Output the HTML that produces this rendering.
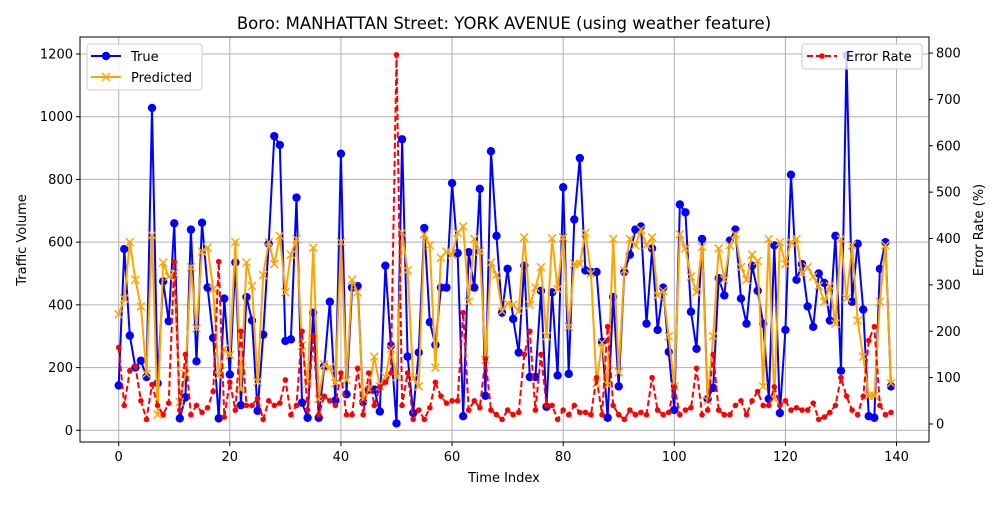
<!DOCTYPE html>
<html><head><meta charset="utf-8"><style>
body{margin:0;background:#fff;font-family:"Liberation Sans","DejaVu Sans",sans-serif}
svg text{font-family:"DejaVu Sans","Liberation Sans",sans-serif;fill:#000}
</style></head><body>
<svg id="chart" width="1000" height="500" xmlns="http://www.w3.org/2000/svg">
<rect width="1000" height="500" fill="#fff"/>
<g id="grid"></g>
<g id="series"></g>
<rect x="80" y="37" width="849" height="405" fill="none" stroke="#000" stroke-width="1"/>
<g id="axes"></g>
<text x="504" y="29" font-size="16.5" text-anchor="middle">Boro: MANHATTAN Street: YORK AVENUE (using weather feature)</text>
<text x="504" y="482" font-size="13" text-anchor="middle">Time Index</text>
<text transform="translate(26,240) rotate(-90)" font-size="13" text-anchor="middle">Traffic Volume</text>
<text transform="translate(983,230) rotate(-90)" font-size="13" text-anchor="middle">Error Rate (%)</text>
<g>
<rect x="87" y="44" width="115" height="46" rx="3" fill="#fff" fill-opacity="0.8" stroke="#ccc"/>
<g><line x1="91" y1="56" x2="121" y2="56" stroke="blue" stroke-width="2"/><circle cx="106" cy="56" r="4.2" fill="blue"/><text x="131" y="61" font-size="13">True</text></g>
<g><line x1="91" y1="77" x2="121" y2="77" stroke="orange" stroke-width="2"/><path d="M102 73 L110 81 M110 73 L102 81" stroke="orange" stroke-width="1.5"/><text x="131" y="82" font-size="13">Predicted</text></g>
</g>
<g>
<rect x="802" y="44" width="120" height="25" rx="3" fill="#fff" fill-opacity="0.8" stroke="#ccc"/>
<g><line x1="807" y1="56" x2="837" y2="56" stroke="red" stroke-width="2" stroke-dasharray="6,3"/><circle cx="822" cy="56" r="2.8" fill="red"/><text x="846" y="61" font-size="13">Error Rate</text></g>
</g>
</svg>
<script>
const trueVals=[143,578,302,200,222,170,1028,150,475,348,660,38,105,640,220,662,455,295,38,420,178,535,80,425,350,62,305,595,938,910,285,290,742,88,40,375,40,205,410,95,882,115,455,460,90,130,130,60,525,270,22,928,235,55,248,645,345,272,455,455,788,565,45,568,455,770,110,890,620,375,515,355,248,525,170,170,445,75,440,175,775,180,672,868,510,505,505,282,40,425,140,505,560,640,650,340,580,320,455,250,65,720,695,378,260,610,100,135,485,430,605,640,420,340,525,445,340,100,590,55,320,815,480,530,395,330,500,470,350,620,190,1195,410,595,385,45,40,515,600,140];
const predVals=[370,420,600,480,395,180,622,50,535,490,500,90,180,520,325,570,583,450,175,260,240,600,130,535,460,155,495,600,530,620,440,560,610,270,150,582,100,210,200,150,600,160,480,440,100,130,235,140,170,260,170,630,510,165,140,625,590,200,550,570,560,630,650,410,610,570,225,535,495,380,405,400,380,615,400,455,520,300,612,450,615,330,530,530,630,500,150,280,145,610,185,510,610,590,640,590,615,430,445,300,140,625,580,490,440,585,95,300,580,480,590,625,520,480,560,540,140,610,100,600,530,600,610,500,520,490,460,410,460,340,610,420,590,350,235,110,110,410,590,150];
const errVals=[165,40,115,125,50,10,85,40,20,45,350,30,150,20,40,25,35,70,350,15,90,30,200,40,40,55,10,50,40,45,95,20,40,200,30,190,20,60,50,40,110,20,20,120,20,110,40,80,90,110,796,40,110,10,30,10,35,90,60,45,50,50,240,30,50,35,140,30,20,10,30,20,25,150,200,30,150,40,40,10,30,20,40,25,25,20,100,20,210,40,20,10,30,20,25,20,100,30,20,25,80,20,30,35,120,20,30,150,30,20,20,40,50,20,50,70,40,40,80,40,50,30,35,30,30,45,10,15,25,40,100,60,30,20,60,180,210,40,20,25];
const xTicks=[0,20,40,60,80,100,120,140];
const yTicks=[0,200,400,600,800,1000,1200];
const y2Ticks=[0,100,200,300,400,500,600,700,800];

const NS='http://www.w3.org/2000/svg';
const X=i=>118.7+5.556*i;
const Y=v=>430.3-v*0.3136;
const Y2=v=>424-v*(371/800);
function mk(tag,attrs,parent){const e=document.createElementNS(NS,tag);for(const k in attrs)e.setAttribute(k,attrs[k]);parent.appendChild(e);return e;}
const grid=document.getElementById('grid'),axes=document.getElementById('axes'),series=document.getElementById('series');
xTicks.forEach(t=>{
  const g=mk('line',{x1:X(t),x2:X(t),y1:37,y2:442,stroke:'#b0b0b0','stroke-width':1},grid);
  
  
  mk('line',{x1:X(t),x2:X(t),y1:442,y2:446,stroke:'#000'},axes);
  const tx=mk('text',{x:X(t),y:461,'font-size':13,'text-anchor':'middle'},axes);tx.textContent=t;
  
  
});
yTicks.forEach(t=>{
  const g=mk('line',{x1:80,x2:929,y1:Y(t),y2:Y(t),stroke:'#b0b0b0','stroke-width':1},grid);
  
  
  mk('line',{x1:76,x2:80,y1:Y(t),y2:Y(t),stroke:'#000'},axes);
  const tx=mk('text',{x:73,y:Y(t)+4.5,'font-size':13,'text-anchor':'end'},axes);tx.textContent=t;
  
  
});
y2Ticks.forEach(t=>{
  mk('line',{x1:929,x2:933,y1:Y2(t),y2:Y2(t),stroke:'#000'},axes);
  const tx=mk('text',{x:936,y:Y2(t)+4.5,'font-size':13},axes);tx.textContent=t;
  
  
});
const pts=(arr,f)=>arr.map((v,i)=>X(i).toFixed(1)+','+f(v).toFixed(1)).join(' ');
const lt=mk('polyline',{points:pts(trueVals,Y),fill:'none',stroke:'blue','stroke-width':2},series);


trueVals.forEach((v,i)=>{const c=mk('circle',{cx:X(i),cy:Y(v),r:4.2,fill:'blue'},series);
  
  });
const lp=mk('polyline',{points:pts(predVals,Y),fill:'none',stroke:'orange','stroke-width':2},series);


predVals.forEach((v,i)=>{const x=X(i),y=Y(v);const p=mk('path',{d:`M${x-4} ${y-4}L${x+4} ${y+4}M${x+4} ${y-4}L${x-4} ${y+4}`,stroke:'orange','stroke-width':1.5},series);
  
  });
const le=mk('polyline',{points:pts(errVals,Y2),fill:'none',stroke:'red','stroke-width':2,'stroke-dasharray':'6,3'},series);


errVals.forEach((v,i)=>{const c=mk('circle',{cx:X(i),cy:Y2(v),r:2.8,fill:'red'},series);
  
  });
</script>
</body></html>
